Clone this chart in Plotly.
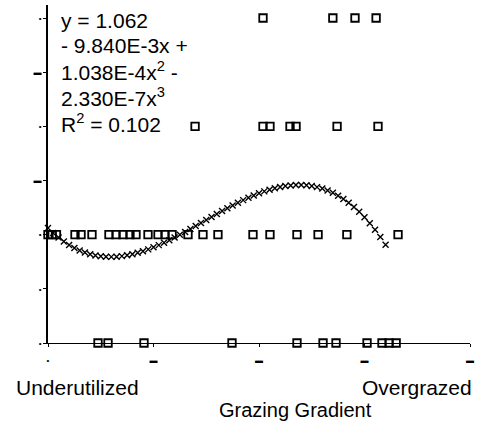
import plotly.graph_objects as go

# Observed grazing scores (x = position on grazing gradient, y = response class)
obs_x = [0, 4, 8, 25.6, 31.3, 41.7, 57.8, 64.5, 71.1, 77.7, 83.4, 94.8, 104.3, 110.9, 117.6,
         132.7, 146.9, 161.1, 194.3, 210.4, 236, 256, 283.3, 331.8,
         47.4, 56.9, 91, 174.4, 236, 260.7, 273, 302.4, 316.6, 323.3, 330,
         139.4, 203.8, 210.4, 229.4, 235.1, 274, 312.8,
         203.8, 270, 291, 311]
obs_y = [1]*24 + [0]*11 + [2]*7 + [3]*4

# Fitted cubic curve values
fit_x = list(range(0, 325, 5))
fit_y = [1.0620, 1.0154, 0.9737, 0.9370, 0.9049, 0.8772, 0.8539, 0.8348, 0.8196, 0.8082,
         0.8004, 0.7960, 0.7950, 0.7970, 0.8019, 0.8096, 0.8198, 0.8325, 0.8473, 0.8642,
         0.8830, 0.9035, 0.9255, 0.9488, 0.9733, 0.9988, 1.0251, 1.0521, 1.0795, 1.1073,
         1.1351, 1.1629, 1.1905, 1.2177, 1.2443, 1.2701, 1.2951, 1.3189, 1.3414, 1.3625,
         1.3820, 1.3997, 1.4154, 1.4289, 1.4401, 1.4489, 1.4549, 1.4581, 1.4583, 1.4553,
         1.4489, 1.4389, 1.4253, 1.4077, 1.3861, 1.3602, 1.3299, 1.2950, 1.2553, 1.2107,
         1.1610, 1.1060, 1.0455, 0.9793, 0.9074]

x_tickvals = [0, 100, 200, 300, 400]
x_ticktext = ["•", "▬", "▬", "▬", "▬"]
y_tickvals = [0, 0.5, 1, 1.5, 2, 2.5, 3]
y_ticktext = ["•", "•", "•", "▬", "•", "▬", "•"]

eq_lines = ["y = 1.062", "- 9.840E-3x +", "1.038E-4x<sup>2</sup> -",
            "2.330E-7x<sup>3</sup>", "R<sup>2</sup> = 0.102"]

FONT = "Liberation Sans, Arial, sans-serif"

fig = go.Figure()
fig.add_trace(go.Scatter(
    x=obs_x, y=obs_y, mode="markers", cliponaxis=False,
    marker=dict(symbol="square-open", size=7.5, color="black", line=dict(width=1.8, color="black")),
))
fig.add_trace(go.Scatter(
    x=fit_x, y=fit_y, mode="markers", cliponaxis=False,
    marker=dict(symbol="x-thin-open", size=6, color="black", line=dict(width=1.4, color="black")),
))

W, H = 483, 424
L, R, T, B = 48, 13, 5, 81
pw, ph = W - L - R, H - T - B

def px(xp):
    return (xp - L) / pw

def py(yp):
    return (H - B - yp) / ph

annotations = []
line_centers = [20, 46, 71, 97, 123]
for txt, yc in zip(eq_lines, line_centers):
    annotations.append(dict(text=txt, xref="paper", yref="paper", x=px(59), y=py(yc),
                            xanchor="left", yanchor="middle", showarrow=False,
                            font=dict(family=FONT, size=21, color="black")))
annotations.append(dict(text="Underutilized", xref="paper", yref="paper", x=px(14), y=py(388),
                        xanchor="left", yanchor="middle", showarrow=False,
                        font=dict(family=FONT, size=21, color="black")))
annotations.append(dict(text="Overgrazed", xref="paper", yref="paper", x=px(474), y=py(388),
                        xanchor="right", yanchor="middle", showarrow=False,
                        font=dict(family=FONT, size=21, color="black")))
annotations.append(dict(text="Grazing Gradient", xref="paper", yref="paper", x=px(295), y=py(410),
                        xanchor="center", yanchor="middle", showarrow=False,
                        font=dict(family=FONT, size=20, color="black")))

fig.update_layout(
    width=W, height=H, margin=dict(l=L, r=R, t=T, b=B),
    paper_bgcolor="white", plot_bgcolor="white", showlegend=False,
    font=dict(family=FONT, color="black"),
    annotations=annotations,
    xaxis=dict(range=[0, 400], showgrid=False, zeroline=False, showline=True,
               linecolor="black", linewidth=1.2, ticks="outside", ticklen=3, tickwidth=1,
               tickcolor="black", tickvals=x_tickvals, ticktext=x_ticktext,
               tickfont=dict(size=8, color="black"), ticklabelstandoff=6),
    yaxis=dict(range=[0, 3.12], showgrid=False, zeroline=False, showline=True,
               linecolor="black", linewidth=1.6, ticks="outside", ticklen=3, tickwidth=1,
               tickcolor="black", tickvals=y_tickvals, ticktext=y_ticktext,
               tickfont=dict(size=8, color="black")),
)

fig.write_html("out.html")
